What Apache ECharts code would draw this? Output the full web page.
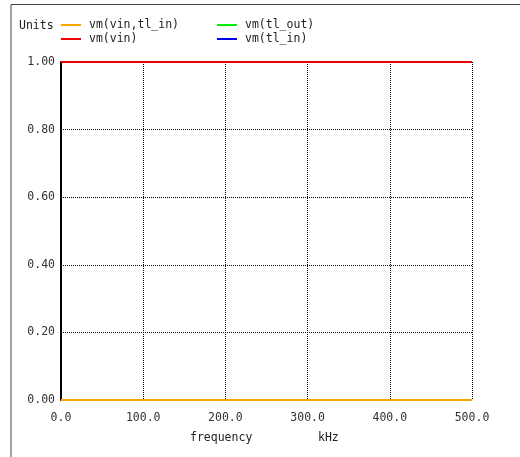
<!DOCTYPE html>
<html><head><meta charset="utf-8">
<script src="https://cdn.jsdelivr.net/npm/echarts@6/dist/echarts.min.js"></script>
<style>html,body{margin:0;padding:0;background:#fff}#c{width:520px;height:457px}</style>
</head><body><div id="c"></div>
<script>
var frequency = [0, 500];
var vmVinTlIn = [0, 0];
var vmVin = [1, 1];
var vmTlOut = [1, 1];
var vmTlIn = [1, 1];
var xTicks = [0, 100, 200, 300, 400, 500];
var yTicks = [0, 0.2, 0.4, 0.6, 0.8, 1.0];

var FONT = 'DejaVu Sans Mono';
function pairs(ys){ return frequency.map(function(f,i){ return [f, ys[i]]; }); }
var legendText = {fontFamily:FONT, fontSize:11.5, color:'#222', lineHeight:14, padding:[4,0,0,3]};
var chart = echarts.init(document.getElementById('c'), null, {renderer:'canvas'});
chart.setOption({
  animation:false,
  textStyle:{fontFamily:FONT, fontSize:11, color:'#333'},
  grid:{left:61, right:48, top:62, bottom:57},
  legend:[
    {left:61, top:16, padding:0, orient:'vertical', itemWidth:20, itemHeight:2, itemGap:-4, icon:'rect',
     textStyle:legendText, data:['vm(vin,tl_in)','vm(vin)'], selectedMode:false},
    {left:217, top:16, padding:0, orient:'vertical', itemWidth:20, itemHeight:2, itemGap:-4, icon:'rect',
     textStyle:legendText, data:['vm(tl_out)','vm(tl_in)'], selectedMode:false}
  ],
  graphic:[
    {type:'polyline', shape:{points:[[11,457],[11,4.5],[520,4.5]]}, style:{stroke:'#444', lineWidth:1, fill:null}},
    {type:'text', left:19, top:20, style:{text:'Units', font:'11.5px "DejaVu Sans Mono"', fill:'#222'}},
    {type:'text', left:190, top:432, style:{text:'frequency', font:'11.5px "DejaVu Sans Mono"', fill:'#222'}},
    {type:'text', left:318, top:432, style:{text:'kHz', font:'11.5px "DejaVu Sans Mono"', fill:'#222'}}
  ],
  xAxis:{type:'value', min:0, max:500, interval:100,
    axisLine:{show:false}, axisTick:{show:false},
    axisLabel:{margin:12, fontFamily:FONT, fontSize:11.5, color:'#333', formatter:function(v){return v.toFixed(1);}},
    splitLine:{show:true, lineStyle:{color:'#000', type:[1,1], width:1}}},
  yAxis:{type:'value', min:0, max:1, interval:0.2,
    axisLine:{show:true, lineStyle:{color:'#000', width:2}}, axisTick:{show:false},
    axisLabel:{margin:6, fontFamily:FONT, fontSize:11.5, color:'#333', formatter:function(v){return v.toFixed(2);}},
    splitLine:{show:true, lineStyle:{color:'#000', type:[1,1], width:1}}},
  series:[
    {name:'vm(tl_out)', type:'line', data:pairs(vmTlOut), showSymbol:false, color:'#00ee00', lineStyle:{width:2}},
    {name:'vm(tl_in)', type:'line', data:pairs(vmTlIn), showSymbol:false, color:'#0000ee', lineStyle:{width:2}},
    {name:'vm(vin)', type:'line', data:pairs(vmVin), showSymbol:false, color:'#ee0000', lineStyle:{width:2}},
    {name:'vm(vin,tl_in)', type:'line', data:pairs(vmVinTlIn), showSymbol:false, color:'#ffa500', lineStyle:{width:2}}
  ]
});
</script></body></html>
